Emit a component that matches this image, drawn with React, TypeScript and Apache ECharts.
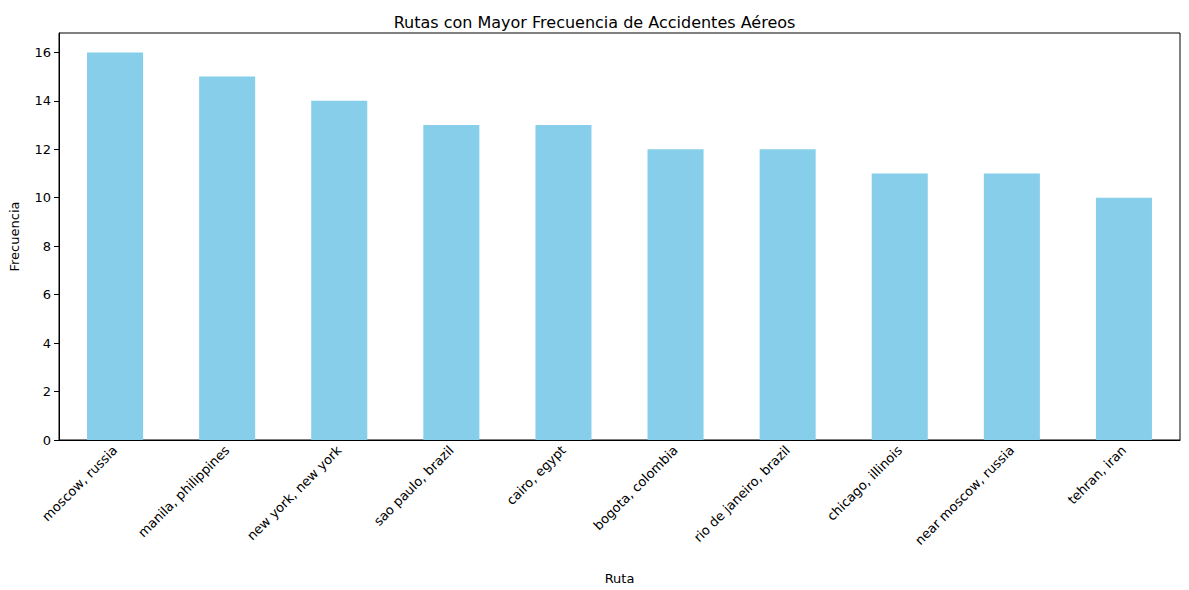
import React, { useEffect, useRef } from "react";
import * as echarts from "echarts";

const categories = ["moscow, russia", "manila, philippines", "new york, new york", "sao paulo, brazil", "cairo, egypt", "bogota, colombia", "rio de janeiro, brazil", "chicago, illinois", "near moscow, russia", "tehran, iran"];
const values = [16, 15, 14, 13, 13, 12, 12, 11, 11, 10];
const yTicks = [0, 2, 4, 6, 8, 10, 12, 14, 16];

export default function App() {
  const ref = useRef<HTMLDivElement>(null);
  useEffect(() => {
    document.body.style.margin = "0";
    const chart = echarts.init(ref.current!, null, { renderer: "svg" });
    const font = "DejaVu Sans";
    chart.setOption({
      animation: false,
      textStyle: { fontFamily: font },
      title: { text: "Rutas con Mayor Frecuencia de Accidentes Aéreos", left: "center", top: 9, textStyle: { fontFamily: font, fontSize: 16, fontWeight: "normal", color: "#000" } },
      grid: { left: 57, right: 9, top: 33, bottom: 150, show: true, borderColor: "#000", borderWidth: 1 },
      xAxis: {
        type: "category", data: categories, name: "Ruta", nameLocation: "middle", nameGap: 132,
        nameTextStyle: { fontSize: 13, color: "#000", fontFamily: font },
        axisLine: { lineStyle: { color: "#000" } },
        axisTick: { alignWithLabel: true, lineStyle: { color: "#000" }, length: 5 },
        axisLabel: { rotate: 45, fontSize: 13, color: "#000", fontFamily: font, margin: 8 },
      },
      yAxis: {
        type: "value", min: 0, max: 16.8, name: "Frecuencia", nameLocation: "middle", nameGap: 38,
        nameTextStyle: { fontSize: 13, color: "#000", fontFamily: font },
        axisLine: { show: true, lineStyle: { color: "#000" } },
        axisTick: { show: true, length: 5, lineStyle: { color: "#000" }, customValues: yTicks },
        axisLabel: { fontSize: 13, color: "#000", fontFamily: font, customValues: yTicks },
        splitLine: { show: false },
      },
      series: [{ type: "bar", data: values, barWidth: "50%", itemStyle: { color: "#87CEEB" } }],
    });
    return () => chart.dispose();
  }, []);
  return <div ref={ref} style={{ width: 1189, height: 590 }} />;
}
